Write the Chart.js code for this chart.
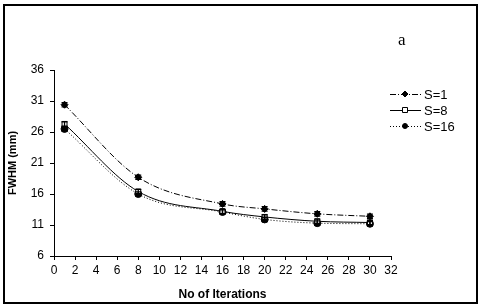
<!DOCTYPE html>
<html>
<head>
<meta charset="utf-8">
<script src="https://cdn.jsdelivr.net/npm/chart.js"></script>
<style>
  body { margin: 0; background: #fff; }
  #wrap { position: relative; width: 482px; height: 306px; }
</style>
</head>
<body>
<div id="wrap"><canvas id="myChart" width="482" height="306"></canvas></div>
<script>
// data
const iterations = [1, 8, 16, 20, 25, 30];
const s1 = [30.4, 18.7, 14.4, 13.6, 12.8, 12.4];
const s8 = [27.3, 16.4, 13.2, 12.3, 11.6, 11.4];
const s16 = [26.5, 16.0, 13.1, 11.9, 11.3, 11.2];
const s1Err = [0.35, 0.35, 0.35, 0.35, 0.35, 0.35];
const s8Err = [0.35, 0.35, 0.35, 0.35, 0.35, 0.35];
const s16Err = [0.35, 0.35, 0.35, 0.35, 0.35, 0.35];
const seriesNames = ['S=1', 'S=8', 'S=16'];
const yTicks = [6, 11, 16, 21, 26, 31, 36];

const toPts = vals => iterations.map((x, i) => ({ x: x, y: vals[i] }));

// error bars, legend, panel letter and frame
const extras = {
  id: 'extras',
  afterDatasetsDraw(chart) {
    const ctx = chart.ctx;
    const ys = chart.scales.y, xs = chart.scales.x;
    ctx.save();
    ctx.strokeStyle = '#000';
    ctx.lineWidth = 1.3;
    chart.data.datasets.forEach(ds => {
      ds.data.forEach((p, i) => {
        const px = xs.getPixelForValue(p.x);
        const top = ys.getPixelForValue(p.y + ds.err[i]);
        const bot = ys.getPixelForValue(p.y - ds.err[i]);
        ctx.beginPath();
        ctx.moveTo(px, top); ctx.lineTo(px, bot);
        ctx.moveTo(px - 3, top); ctx.lineTo(px + 3, top);
        ctx.moveTo(px - 3, bot); ctx.lineTo(px + 3, bot);
        ctx.stroke();
      });
    });
    ctx.restore();
  },
  afterDraw(chart) {
    const ctx = chart.ctx;
    ctx.save();
    // legend
    chart.data.datasets.forEach((ds, i) => {
      const y = 94 + i * 16;
      ctx.strokeStyle = '#000';
      ctx.lineWidth = 1;
      ctx.setLineDash(ds.borderDash || []);
      ctx.beginPath();
      ctx.moveTo(390, y + 0.5); ctx.lineTo(421, y + 0.5);
      ctx.stroke();
      ctx.setLineDash([]);
      ctx.fillStyle = ds.pointBackgroundColor;
      ctx.beginPath();
      if (ds.pointStyle === 'rectRot') {
        ctx.moveTo(405, y - 3); ctx.lineTo(408, y); ctx.lineTo(405, y + 3); ctx.lineTo(402, y);
        ctx.closePath();
      } else if (ds.pointStyle === 'rect') {
        ctx.rect(402.5, y - 2.5, 5, 5);
      } else {
        ctx.arc(405, y, 2.5, 0, Math.PI * 2);
      }
      ctx.fill();
      ctx.stroke();
      ctx.fillStyle = '#000';
      ctx.font = '13px "Liberation Sans", Arial, sans-serif';
      ctx.textBaseline = 'middle';
      ctx.fillText(ds.label, 424, y + 1);
    });
    // panel letter
    ctx.font = '17px "Liberation Serif", "Times New Roman", serif';
    ctx.textBaseline = 'alphabetic';
    ctx.fillText('a', 398, 45);
    // frame
    ctx.lineWidth = 2;
    ctx.strokeRect(4, 5, 473, 298);
    ctx.restore();
  }
};

Chart.defaults.font.family = '"Liberation Sans", Arial, sans-serif';
Chart.defaults.color = '#000';

new Chart(document.getElementById('myChart'), {
  type: 'line',
  data: {
    datasets: [
      {
        label: seriesNames[0], data: toPts(s1), err: s1Err,
        borderColor: '#000', borderWidth: 1, borderDash: [6, 2, 1, 2],
        pointStyle: 'rectRot', pointRadius: 3.5, pointBackgroundColor: '#000', pointBorderColor: '#000'
      },
      {
        label: seriesNames[1], data: toPts(s8), err: s8Err,
        borderColor: '#000', borderWidth: 1,
        pointStyle: 'rect', pointRadius: 3.5, pointBackgroundColor: '#fff', pointBorderColor: '#000'
      },
      {
        label: seriesNames[2], data: toPts(s16), err: s16Err,
        borderColor: '#000', borderWidth: 1, borderDash: [1, 2],
        pointStyle: 'circle', pointRadius: 3.5, pointBackgroundColor: '#000', pointBorderColor: '#000'
      }
    ]
  },
  options: {
    responsive: false,
    animation: false,
    devicePixelRatio: 1,
    cubicInterpolationMode: 'monotone',
    layout: { padding: { left: 0, top: 70, right: 91, bottom: 0 } },
    plugins: { legend: { display: false }, tooltip: { enabled: false } },
    scales: {
      x: {
        type: 'linear', min: 0, max: 32,
        afterFit: s => { s.height = 50; },
        ticks: { stepSize: 2, font: { size: 12 }, padding: 3, maxRotation: 0 },
        grid: { drawOnChartArea: false, drawTicks: true, tickLength: 4, color: '#000' },
        border: { color: '#000', width: 1 },
        title: { display: true, text: 'No of Iterations', font: { size: 12, weight: 'bold' }, padding: { top: 6 } }
      },
      y: {
        min: 6, max: 36,
        afterFit: s => { s.width = 54; },
        afterBuildTicks: s => { s.ticks = yTicks.map(v => ({ value: v })); },
        ticks: { font: { size: 12 }, padding: 6 },
        grid: { drawOnChartArea: false, drawTicks: true, tickLength: 4, color: '#000' },
        border: { color: '#000', width: 1 },
        title: { display: true, text: 'FWHM (mm)', font: { size: 11, weight: 'bold' }, padding: { top: 6, bottom: 4 } }
      }
    }
  },
  plugins: [extras]
});
</script>
</body>
</html>
